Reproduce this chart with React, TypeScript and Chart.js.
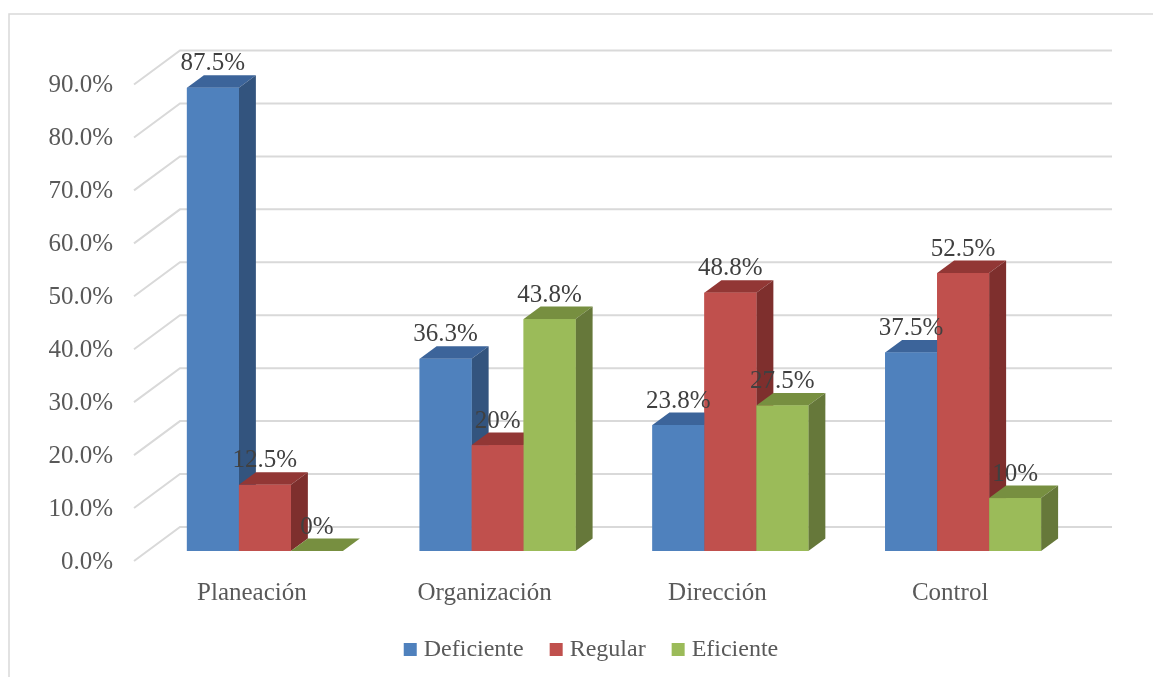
import React, { useEffect, useRef } from "react";
import { Chart, registerables } from "chart.js";

Chart.register(...registerables);

const categories = ["Planeación", "Organización", "Dirección", "Control"];
const seriesNames = ["Deficiente", "Regular", "Eficiente"];
const deficiente = [87.5, 36.3, 23.8, 37.5];
const regular = [12.5, 20, 48.8, 52.5];
const eficiente = [0, 43.8, 27.5, 10];
const yTickValues = [0, 10, 20, 30, 40, 50, 60, 70, 80, 90];
const yTickLabels = ["0.0%", "10.0%", "20.0%", "30.0%", "40.0%", "50.0%", "60.0%", "70.0%", "80.0%", "90.0%"];

const frontColors = ["#4F81BD", "#C0504D", "#9BBB59"];
const sideColors = ["#33547E", "#7E2F2D", "#66783A"];
const topColors = ["#3C649A", "#923735", "#778F40"];

const FONT = '"Liberation Serif", "Times New Roman", serif';

function fmt(v: number) {
  return Number.isInteger(v) ? v + "%" : v.toFixed(1) + "%";
}

const threeD = {
  id: "threeD",
  beforeDatasetsDraw(chart: any) {
    const ctx = chart.ctx;
    const y = chart.scales.y;
    const area = chart.chartArea;
    ctx.save();
    // chart border
    ctx.strokeStyle = "#d9d9d9";
    ctx.lineWidth = 1.5;
    ctx.beginPath();
    ctx.moveTo(9, 677);
    ctx.lineTo(9, 14);
    ctx.lineTo(1153, 14);
    ctx.stroke();
    // gridlines on floor/back wall
    ctx.strokeStyle = "#d9d9d9";
    ctx.lineWidth = 2;
    const frontX = area.left - 14.5;
    const backX = area.left + 31.5;
    const rightX = area.right + 32.5;
    yTickValues.forEach((v, i) => {
      const yb = y.getPixelForValue(v);
      ctx.beginPath();
      ctx.moveTo(frontX, yb + 10);
      ctx.lineTo(backX, yb - 24);
      ctx.lineTo(rightX, yb - 24);
      ctx.stroke();
      ctx.fillStyle = "#595959";
      ctx.font = "25px " + FONT;
      ctx.textAlign = "right";
      ctx.textBaseline = "middle";
      ctx.fillText(yTickLabels[i], frontX - 21, yb + 11);
    });
    // category labels
    const x = chart.scales.x;
    ctx.fillStyle = "#595959";
    ctx.textAlign = "center";
    categories.forEach((c, i) => {
      ctx.fillText(c, x.getPixelForValue(i) - 13, 593);
    });
    // legend
    ctx.font = "24px " + FONT;
    ctx.textAlign = "left";
    const widths = seriesNames.map((n) => ctx.measureText(n).width);
    const sq = 13, gapSq = 7, gapItem = 26;
    let total = 0;
    widths.forEach((w, i) => {
      total += sq + gapSq + w + (i < widths.length - 1 ? gapItem : 0);
    });
    let lx = 591 - total / 2;
    seriesNames.forEach((n, i) => {
      ctx.fillStyle = frontColors[i];
      ctx.fillRect(lx, 643, sq, sq);
      ctx.fillStyle = "#595959";
      ctx.fillText(n, lx + sq + gapSq, 650);
      lx += sq + gapSq + widths[i] + gapItem;
    });
    ctx.restore();
  },
  afterDatasetsDraw(chart: any) {
    const ctx = chart.ctx;
    const dx = 17, dy = -12.5;
    const nCat = categories.length;
    const nSet = chart.data.datasets.length;
    ctx.save();
    for (let c = 0; c < nCat; c++) {
      for (let s = 0; s < nSet; s++) {
        const el = chart.getDatasetMeta(s).data[c];
        const half = el.width / 2;
        const L = el.x - half, R = el.x + half, T = el.y, B = el.base;
        // top face
        ctx.fillStyle = topColors[s];
        ctx.beginPath();
        ctx.moveTo(L, T);
        ctx.lineTo(R, T);
        ctx.lineTo(R + dx, T + dy);
        ctx.lineTo(L + dx, T + dy);
        ctx.closePath();
        ctx.fill();
        // side face
        ctx.fillStyle = sideColors[s];
        ctx.beginPath();
        ctx.moveTo(R, T);
        ctx.lineTo(R + dx, T + dy);
        ctx.lineTo(R + dx, B + dy);
        ctx.lineTo(R, B);
        ctx.closePath();
        ctx.fill();
        // front face
        if (B - T > 0) {
          ctx.fillStyle = frontColors[s];
          ctx.fillRect(L, T, R - L, B - T);
        }
      }
    }
    // data labels
    ctx.fillStyle = "#404040";
    ctx.font = "25px " + FONT;
    ctx.textAlign = "center";
    ctx.textBaseline = "middle";
    for (let s = 0; s < nSet; s++) {
      const meta = chart.getDatasetMeta(s);
      const values = chart.data.datasets[s].data as number[];
      meta.data.forEach((el: any, i: number) => {
        ctx.fillText(fmt(values[i]), el.x, el.y - 24);
      });
    }
    ctx.restore();
  },
};

export default function App() {
  const ref = useRef<HTMLCanvasElement | null>(null);
  useEffect(() => {
    if (!ref.current) return;
    const chart = new Chart(ref.current, {
      type: "bar",
      data: {
        labels: categories,
        datasets: [
          { label: seriesNames[0], data: deficiente, backgroundColor: frontColors[0] },
          { label: seriesNames[1], data: regular, backgroundColor: frontColors[1] },
          { label: seriesNames[2], data: eficiente, backgroundColor: frontColors[2] },
        ],
      },
      options: {
        responsive: false,
        animation: false,
        devicePixelRatio: 1,
        layout: { padding: { left: 148.5, right: 73.5, top: 74.5, bottom: 126 } },
        datasets: { bar: { categoryPercentage: 0.67, barPercentage: 1 } },
        plugins: { legend: { display: false }, tooltip: { enabled: false } },
        scales: {
          x: { display: false },
          y: { display: false, min: 0, max: 90 },
        },
      },
      plugins: [threeD],
    });
    return () => chart.destroy();
  }, []);
  return (
    <div style={{ position: "fixed", left: 0, top: 0, width: 1153, height: 677, background: "#fff" }}>
      <canvas ref={ref} width={1153} height={677} style={{ display: "block", width: 1153, height: 677 }} />
    </div>
  );
}
